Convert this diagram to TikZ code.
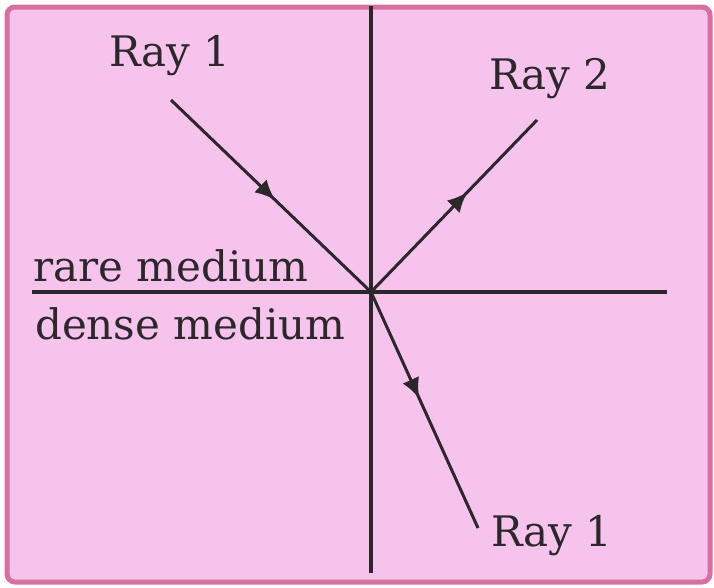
\documentclass[tikz,border=0pt]{standalone}
\usepackage{fontspec}
\usetikzlibrary{arrows.meta,decorations.markings}
\newfontfamily\raysfont{DejaVu Serif}
\definecolor{Paper}{HTML}{F5C3EC}
\definecolor{Edge}{HTML}{D7709F}
\definecolor{Ink}{HTML}{2B272B}
\begin{document}
\begin{tikzpicture}[
  x=1pt,y=-1pt,
  axis/.style={draw=Ink,line width=3.5pt},
  ray/.style={draw=Ink,line width=3pt},
  raylabel/.style={font=\raysfont\fontsize{42}{50}\selectfont,text=Ink,inner sep=0pt},
  midarrow/.style={postaction={decorate},decoration={markings,mark=at position #1 with {\arrow{Latex[length=20pt,width=18pt]}}}}
]
\useasboundingbox (0,0) rectangle (714,587);
\draw[draw=Edge,line width=5pt,fill=Paper,rounded corners=8pt] (7,7) rectangle (710,582);
% normal and boundary
\coordinate (o) at (371,292);
\coordinate (top) at (371,6);
\coordinate (bot) at (371,573);
\coordinate (left) at (32,292);
\coordinate (right) at (667,292);
\draw[axis] (top) -- (bot);
\draw[axis] (left) -- (right);
% labels
\node[raylabel,anchor=base] (inlab) at (170,66) {Ray 1};
\node[raylabel,anchor=base] (reflab) at (550,89) {Ray 2};
\node[raylabel,anchor=base] (outlab) at (552,546) {Ray 1};
\node[raylabel,anchor=base west] (rare) at (33,281) {rare medium};
\node[raylabel,anchor=base west] (dense) at (35,339) {dense medium};
% rays
\coordinate (inray) at (171,100);
\coordinate (refray) at (537,120);
\coordinate (outray) at (478,528);
\draw[ray,midarrow=0.52] (inray) -- (o);
\draw[ray,midarrow=0.58] (o) -- (refray);
\draw[ray,midarrow=0.45] (o) -- (outray);
\end{tikzpicture}
\end{document}
